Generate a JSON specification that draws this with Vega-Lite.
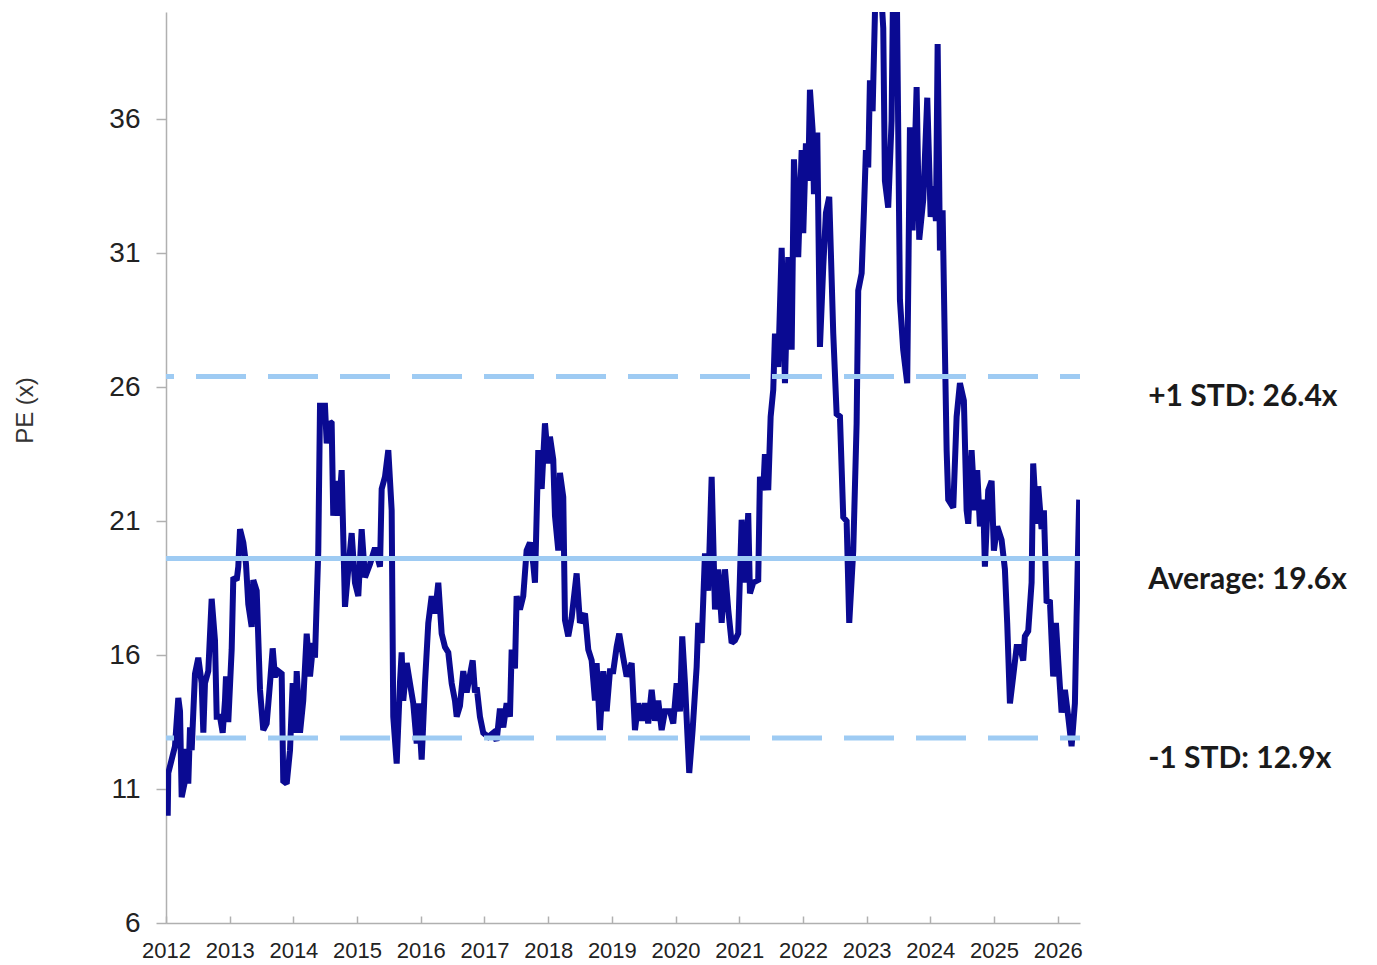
{
  "$schema": "https://vega.github.io/schema/vega-lite/v6.json",
  "autosize": "none",
  "width": 914,
  "height": 911,
  "padding": {"left": 166, "top": 12, "right": 297, "bottom": 42},
  "background": "white",
  "config": {
    "view": {"stroke": null},
    "font": "Liberation Sans"
  },
  "datasets": {
    "pe": [
      {"t": 2012.027, "pe": 10.0}, {"t": 2012.036, "pe": 11.6}, {"t": 2012.089, "pe": 12.1}, {"t": 2012.141, "pe": 12.6},
      {"t": 2012.193, "pe": 14.4}, {"t": 2012.220, "pe": 13.9}, {"t": 2012.246, "pe": 10.7}, {"t": 2012.298, "pe": 11.3},
      {"t": 2012.325, "pe": 12.5}, {"t": 2012.350, "pe": 11.2}, {"t": 2012.377, "pe": 13.3}, {"t": 2012.403, "pe": 12.45},
      {"t": 2012.455, "pe": 15.3}, {"t": 2012.507, "pe": 15.9}, {"t": 2012.560, "pe": 14.95}, {"t": 2012.586, "pe": 13.1},
      {"t": 2012.612, "pe": 14.95}, {"t": 2012.664, "pe": 15.4}, {"t": 2012.717, "pe": 18.1}, {"t": 2012.769, "pe": 16.55},
      {"t": 2012.796, "pe": 13.7}, {"t": 2012.848, "pe": 13.7}, {"t": 2012.890, "pe": 13.1}, {"t": 2012.926, "pe": 14.3},
      {"t": 2012.942, "pe": 15.2}, {"t": 2012.978, "pe": 13.5}, {"t": 2013.031, "pe": 16.2}, {"t": 2013.057, "pe": 18.9},
      {"t": 2013.110, "pe": 18.8}, {"t": 2013.135, "pe": 19.3}, {"t": 2013.162, "pe": 20.7}, {"t": 2013.214, "pe": 20.2},
      {"t": 2013.256, "pe": 19.4}, {"t": 2013.292, "pe": 17.9}, {"t": 2013.345, "pe": 17.05}, {"t": 2013.370, "pe": 18.8},
      {"t": 2013.424, "pe": 18.4}, {"t": 2013.476, "pe": 14.7}, {"t": 2013.527, "pe": 13.2}, {"t": 2013.581, "pe": 13.45},
      {"t": 2013.633, "pe": 14.95}, {"t": 2013.675, "pe": 16.25}, {"t": 2013.711, "pe": 15.2}, {"t": 2013.763, "pe": 15.4},
      {"t": 2013.816, "pe": 15.3}, {"t": 2013.841, "pe": 11.3}, {"t": 2013.895, "pe": 11.2}, {"t": 2013.947, "pe": 12.45},
      {"t": 2013.989, "pe": 14.95}, {"t": 2014.025, "pe": 13.1}, {"t": 2014.052, "pe": 15.4}, {"t": 2014.104, "pe": 13.1},
      {"t": 2014.155, "pe": 14.3}, {"t": 2014.209, "pe": 16.8}, {"t": 2014.261, "pe": 15.2}, {"t": 2014.312, "pe": 16.45},
      {"t": 2014.339, "pe": 15.9}, {"t": 2014.391, "pe": 19.9}, {"t": 2014.418, "pe": 25.3}, {"t": 2014.496, "pe": 25.3},
      {"t": 2014.523, "pe": 23.9}, {"t": 2014.575, "pe": 24.7}, {"t": 2014.601, "pe": 24.65}, {"t": 2014.626, "pe": 21.2},
      {"t": 2014.680, "pe": 22.5}, {"t": 2014.705, "pe": 21.2}, {"t": 2014.758, "pe": 22.9}, {"t": 2014.810, "pe": 17.8},
      {"t": 2014.862, "pe": 19.2}, {"t": 2014.915, "pe": 20.55}, {"t": 2014.967, "pe": 18.7}, {"t": 2015.019, "pe": 18.2},
      {"t": 2015.072, "pe": 20.7}, {"t": 2015.124, "pe": 18.9}, {"t": 2015.203, "pe": 19.4}, {"t": 2015.281, "pe": 20.0},
      {"t": 2015.360, "pe": 19.3}, {"t": 2015.386, "pe": 22.2}, {"t": 2015.438, "pe": 22.65}, {"t": 2015.490, "pe": 23.65},
      {"t": 2015.543, "pe": 21.4}, {"t": 2015.568, "pe": 13.7}, {"t": 2015.622, "pe": 11.95}, {"t": 2015.673, "pe": 14.95},
      {"t": 2015.700, "pe": 16.1}, {"t": 2015.725, "pe": 14.3}, {"t": 2015.779, "pe": 15.7}, {"t": 2015.830, "pe": 14.95},
      {"t": 2015.882, "pe": 14.2}, {"t": 2015.936, "pe": 12.7}, {"t": 2015.961, "pe": 14.2}, {"t": 2016.014, "pe": 12.1},
      {"t": 2016.066, "pe": 14.95}, {"t": 2016.118, "pe": 17.2}, {"t": 2016.171, "pe": 18.2}, {"t": 2016.223, "pe": 17.55},
      {"t": 2016.275, "pe": 18.7}, {"t": 2016.328, "pe": 16.8}, {"t": 2016.380, "pe": 16.3}, {"t": 2016.432, "pe": 16.1},
      {"t": 2016.485, "pe": 14.95}, {"t": 2016.537, "pe": 14.3}, {"t": 2016.564, "pe": 13.7}, {"t": 2016.615, "pe": 14.1},
      {"t": 2016.667, "pe": 15.4}, {"t": 2016.721, "pe": 14.6}, {"t": 2016.815, "pe": 15.8}, {"t": 2016.851, "pe": 14.6},
      {"t": 2016.878, "pe": 14.8}, {"t": 2016.929, "pe": 13.7}, {"t": 2016.981, "pe": 13.1}, {"t": 2017.060, "pe": 12.95},
      {"t": 2017.138, "pe": 13.1}, {"t": 2017.191, "pe": 12.8}, {"t": 2017.243, "pe": 14.0}, {"t": 2017.295, "pe": 13.3},
      {"t": 2017.348, "pe": 14.2}, {"t": 2017.400, "pe": 13.7}, {"t": 2017.427, "pe": 16.2}, {"t": 2017.479, "pe": 15.5},
      {"t": 2017.505, "pe": 18.2}, {"t": 2017.557, "pe": 17.7}, {"t": 2017.609, "pe": 18.2}, {"t": 2017.662, "pe": 19.9},
      {"t": 2017.714, "pe": 20.2}, {"t": 2017.766, "pe": 19.4}, {"t": 2017.793, "pe": 18.7}, {"t": 2017.845, "pe": 23.65},
      {"t": 2017.898, "pe": 22.2}, {"t": 2017.950, "pe": 24.65}, {"t": 2018.002, "pe": 23.15}, {"t": 2018.028, "pe": 24.15},
      {"t": 2018.080, "pe": 23.3}, {"t": 2018.107, "pe": 21.2}, {"t": 2018.159, "pe": 19.9}, {"t": 2018.185, "pe": 22.8},
      {"t": 2018.237, "pe": 21.9}, {"t": 2018.264, "pe": 17.3}, {"t": 2018.316, "pe": 16.7}, {"t": 2018.369, "pe": 17.4},
      {"t": 2018.447, "pe": 19.05}, {"t": 2018.499, "pe": 17.2}, {"t": 2018.578, "pe": 17.55}, {"t": 2018.630, "pe": 16.2},
      {"t": 2018.683, "pe": 15.8}, {"t": 2018.735, "pe": 14.3}, {"t": 2018.761, "pe": 15.7}, {"t": 2018.813, "pe": 13.2},
      {"t": 2018.865, "pe": 15.4}, {"t": 2018.918, "pe": 13.9}, {"t": 2018.970, "pe": 15.4}, {"t": 2019.022, "pe": 15.4},
      {"t": 2019.075, "pe": 16.3}, {"t": 2019.116, "pe": 16.8}, {"t": 2019.179, "pe": 15.9}, {"t": 2019.232, "pe": 15.2},
      {"t": 2019.311, "pe": 15.7}, {"t": 2019.363, "pe": 13.2}, {"t": 2019.414, "pe": 14.2}, {"t": 2019.468, "pe": 13.55},
      {"t": 2019.520, "pe": 14.2}, {"t": 2019.571, "pe": 13.45}, {"t": 2019.625, "pe": 14.7}, {"t": 2019.677, "pe": 13.55},
      {"t": 2019.728, "pe": 14.3}, {"t": 2019.782, "pe": 13.2}, {"t": 2019.834, "pe": 13.9}, {"t": 2019.912, "pe": 13.9},
      {"t": 2019.964, "pe": 13.45}, {"t": 2020.017, "pe": 14.95}, {"t": 2020.069, "pe": 13.9}, {"t": 2020.105, "pe": 16.7},
      {"t": 2020.148, "pe": 14.95}, {"t": 2020.215, "pe": 11.6}, {"t": 2020.268, "pe": 13.2}, {"t": 2020.331, "pe": 15.55},
      {"t": 2020.356, "pe": 17.2}, {"t": 2020.410, "pe": 16.45}, {"t": 2020.462, "pe": 19.8}, {"t": 2020.513, "pe": 18.4},
      {"t": 2020.567, "pe": 22.65}, {"t": 2020.619, "pe": 17.7}, {"t": 2020.670, "pe": 19.2}, {"t": 2020.724, "pe": 17.2},
      {"t": 2020.776, "pe": 19.2}, {"t": 2020.827, "pe": 17.7}, {"t": 2020.881, "pe": 16.45}, {"t": 2020.933, "pe": 16.55},
      {"t": 2020.984, "pe": 16.8}, {"t": 2021.038, "pe": 21.05}, {"t": 2021.090, "pe": 18.7}, {"t": 2021.141, "pe": 21.3},
      {"t": 2021.168, "pe": 18.3}, {"t": 2021.220, "pe": 18.7}, {"t": 2021.298, "pe": 18.8}, {"t": 2021.325, "pe": 22.65},
      {"t": 2021.377, "pe": 22.15}, {"t": 2021.403, "pe": 23.5}, {"t": 2021.455, "pe": 22.15}, {"t": 2021.493, "pe": 24.9},
      {"t": 2021.534, "pe": 25.9}, {"t": 2021.561, "pe": 28.0}, {"t": 2021.612, "pe": 26.75}, {"t": 2021.666, "pe": 31.2},
      {"t": 2021.718, "pe": 26.15}, {"t": 2021.769, "pe": 30.85}, {"t": 2021.823, "pe": 27.4}, {"t": 2021.859, "pe": 34.5},
      {"t": 2021.926, "pe": 30.85}, {"t": 2021.980, "pe": 34.85}, {"t": 2022.005, "pe": 31.75}, {"t": 2022.047, "pe": 35.1},
      {"t": 2022.083, "pe": 33.7}, {"t": 2022.110, "pe": 37.1}, {"t": 2022.152, "pe": 35.6}, {"t": 2022.173, "pe": 33.2},
      {"t": 2022.225, "pe": 35.5}, {"t": 2022.267, "pe": 27.5}, {"t": 2022.319, "pe": 30.5}, {"t": 2022.361, "pe": 32.5},
      {"t": 2022.413, "pe": 33.1}, {"t": 2022.476, "pe": 28.0}, {"t": 2022.529, "pe": 25.0}, {"t": 2022.581, "pe": 24.9},
      {"t": 2022.633, "pe": 21.15}, {"t": 2022.686, "pe": 21.0}, {"t": 2022.727, "pe": 17.2}, {"t": 2022.790, "pe": 19.9},
      {"t": 2022.843, "pe": 24.65}, {"t": 2022.868, "pe": 29.6}, {"t": 2022.922, "pe": 30.25}, {"t": 2022.958, "pe": 32.6},
      {"t": 2022.989, "pe": 34.85}, {"t": 2023.025, "pe": 34.2}, {"t": 2023.052, "pe": 37.45}, {"t": 2023.094, "pe": 36.3},
      {"t": 2023.146, "pe": 41.5}, {"t": 2023.209, "pe": 41.5}, {"t": 2023.261, "pe": 39.4}, {"t": 2023.287, "pe": 33.7},
      {"t": 2023.339, "pe": 32.7}, {"t": 2023.392, "pe": 35.95}, {"t": 2023.418, "pe": 41.5}, {"t": 2023.471, "pe": 41.5},
      {"t": 2023.523, "pe": 29.25}, {"t": 2023.574, "pe": 27.4}, {"t": 2023.637, "pe": 26.15}, {"t": 2023.680, "pe": 35.7},
      {"t": 2023.722, "pe": 31.85}, {"t": 2023.785, "pe": 37.2}, {"t": 2023.826, "pe": 31.5}, {"t": 2023.889, "pe": 33.0},
      {"t": 2023.952, "pe": 36.8}, {"t": 2024.005, "pe": 32.35}, {"t": 2024.046, "pe": 33.5}, {"t": 2024.088, "pe": 32.2},
      {"t": 2024.115, "pe": 38.8}, {"t": 2024.151, "pe": 31.1}, {"t": 2024.193, "pe": 32.6}, {"t": 2024.229, "pe": 27.4},
      {"t": 2024.256, "pe": 23.65}, {"t": 2024.281, "pe": 21.8}, {"t": 2024.360, "pe": 21.5}, {"t": 2024.413, "pe": 24.9},
      {"t": 2024.465, "pe": 26.15}, {"t": 2024.527, "pe": 25.5}, {"t": 2024.570, "pe": 21.4}, {"t": 2024.595, "pe": 20.9},
      {"t": 2024.648, "pe": 23.65}, {"t": 2024.700, "pe": 21.4}, {"t": 2024.736, "pe": 22.9}, {"t": 2024.779, "pe": 20.8},
      {"t": 2024.830, "pe": 21.8}, {"t": 2024.857, "pe": 19.3}, {"t": 2024.909, "pe": 22.15}, {"t": 2024.962, "pe": 22.5},
      {"t": 2024.998, "pe": 19.9}, {"t": 2025.050, "pe": 20.8}, {"t": 2025.119, "pe": 20.3}, {"t": 2025.171, "pe": 19.2},
      {"t": 2025.207, "pe": 17.2}, {"t": 2025.250, "pe": 14.2}, {"t": 2025.301, "pe": 15.2}, {"t": 2025.355, "pe": 16.3},
      {"t": 2025.407, "pe": 16.3}, {"t": 2025.458, "pe": 15.8}, {"t": 2025.485, "pe": 16.7}, {"t": 2025.537, "pe": 16.9},
      {"t": 2025.590, "pe": 18.7}, {"t": 2025.615, "pe": 23.15}, {"t": 2025.669, "pe": 20.9}, {"t": 2025.694, "pe": 22.3},
      {"t": 2025.747, "pe": 20.7}, {"t": 2025.783, "pe": 21.4}, {"t": 2025.826, "pe": 17.95}, {"t": 2025.877, "pe": 18.05},
      {"t": 2025.929, "pe": 15.2}, {"t": 2025.972, "pe": 17.2}, {"t": 2026.008, "pe": 15.8}, {"t": 2026.061, "pe": 13.85},
      {"t": 2026.113, "pe": 14.7}, {"t": 2026.165, "pe": 13.7}, {"t": 2026.218, "pe": 12.6}, {"t": 2026.270, "pe": 14.2},
      {"t": 2026.296, "pe": 17.4}, {"t": 2026.337, "pe": 21.8}
    ],
    "levels": [
      {"label": "+1 STD: 26.4x", "value": 26.4, "kind": "std"},
      {"label": "Average: 19.6x", "value": 19.6, "kind": "avg"},
      {"label": "-1 STD: 12.9x", "value": 12.9, "kind": "std"}
    ]
  },
  "layer": [
    {
      "data": {"name": "pe"},
      "mark": {"type": "line", "color": "#0a0a92", "strokeWidth": 6, "strokeJoin": "miter", "strokeMiterLimit": 2, "clip": true},
      "encoding": {
        "x": {
          "field": "t", "type": "quantitative",
          "scale": {"domain": [2012, 2026.35], "nice": false, "zero": false},
          "axis": {
            "title": null, "grid": false,
            "values": [2012, 2013, 2014, 2015, 2016, 2017, 2018, 2019, 2020, 2021, 2022, 2023, 2024, 2025, 2026],
            "format": "d",
            "labelFontSize": 22, "labelColor": "#222222", "labelPadding": 24,
            "labelFlush": false, "labelOverlap": false,
            "domainColor": "#b0b0b0", "domainWidth": 1.5,
            "tickColor": "#b0b0b0", "tickWidth": 1.5, "tickSize": -7
          }
        },
        "y": {
          "field": "pe", "type": "quantitative",
          "scale": {"domain": [6, 40], "nice": false, "zero": false},
          "axis": {
            "title": "PE (x)", "grid": false,
            "values": [6, 11, 16, 21, 26, 31, 36],
            "labelFontSize": 28, "labelColor": "#222222", "labelPadding": 16,
            "labelFlush": false, "labelOverlap": false,
            "domainColor": "#b0b0b0", "domainWidth": 1.5,
            "tickColor": "#b0b0b0", "tickWidth": 1.5, "tickSize": 10,
            "titleFontSize": 24, "titleFontWeight": "normal", "titleColor": "#333333",
            "titleAngle": -90, "titleX": -141, "titleY": 398,
            "titleAlign": "center", "titleBaseline": "middle"
          }
        }
      }
    },
    {
      "data": {"name": "levels"},
      "transform": [{"filter": "datum.kind === 'avg'"}],
      "mark": {"type": "rule", "color": "#9ecbf3", "strokeWidth": 5},
      "encoding": {"y": {"field": "value", "type": "quantitative"}}
    },
    {
      "data": {"name": "levels"},
      "transform": [{"filter": "datum.kind === 'std'"}],
      "mark": {"type": "rule", "color": "#9ecbf3", "strokeWidth": 5, "strokeDash": [50, 22], "strokeDashOffset": 30},
      "encoding": {"y": {"field": "value", "type": "quantitative"}}
    },
    {
      "data": {"name": "levels"},
      "mark": {"type": "text", "align": "left", "baseline": "middle", "dy": 21, "font": "Lato", "fontWeight": "bold", "fontSize": 30, "color": "#1a1a1a"},
      "encoding": {
        "x": {"datum": 2027.42, "type": "quantitative"},
        "y": {"field": "value", "type": "quantitative"},
        "text": {"field": "label"}
      }
    }
  ]
}
